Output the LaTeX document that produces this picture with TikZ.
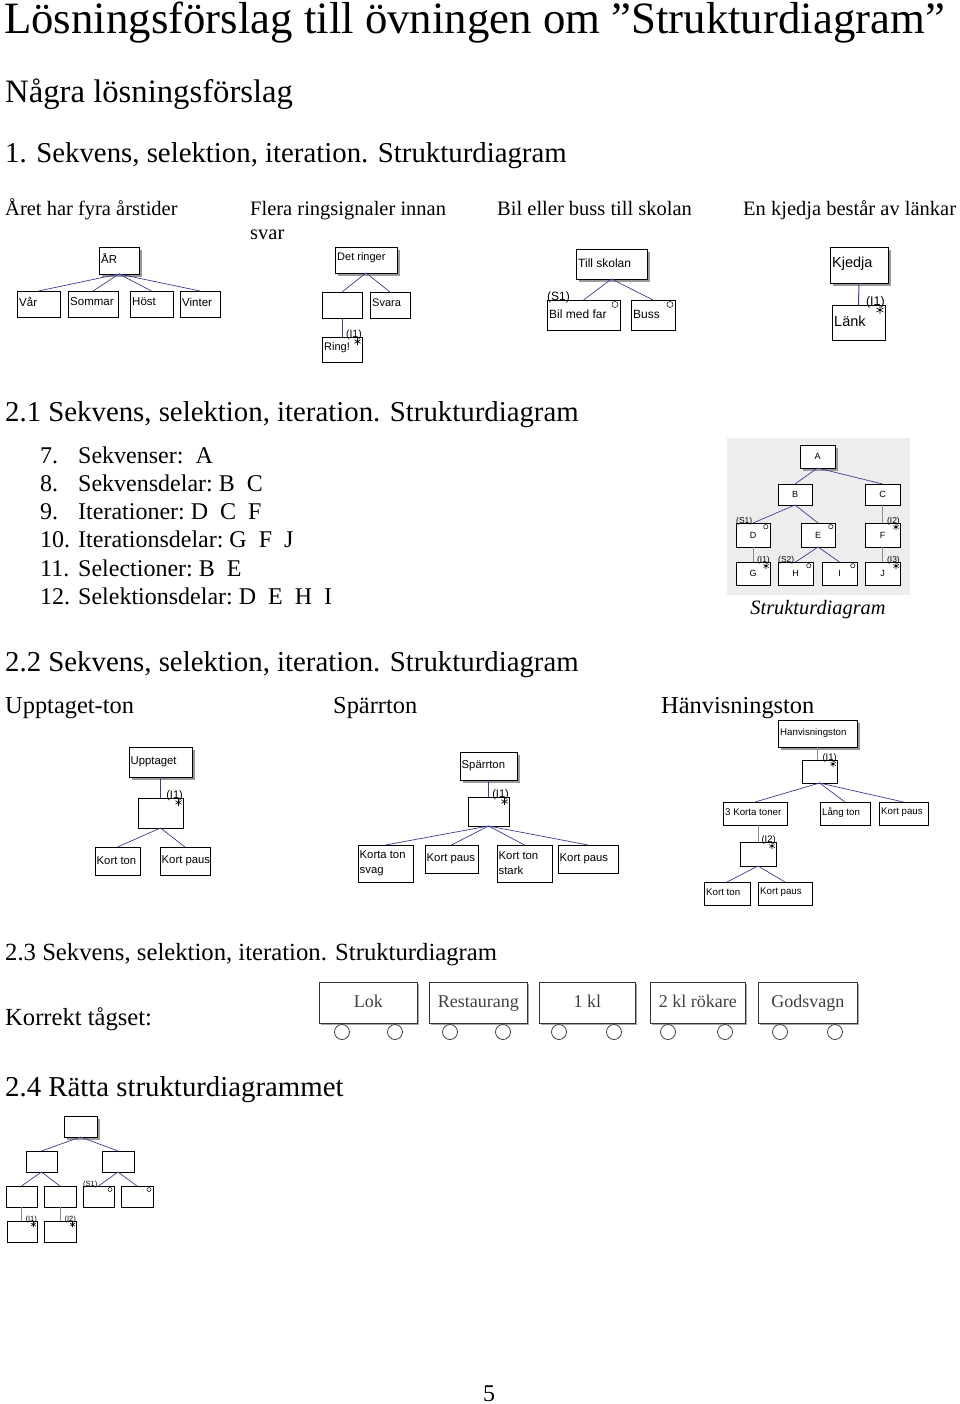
\documentclass[tikz,border=0pt]{standalone}
\usepackage{fontspec}
\setmainfont{Liberation Serif}
\newfontfamily\sansf{Liberation Sans}
\usetikzlibrary{shadows}
\newcommand\myfs[2]{\fontsize{#1}{#2}\selectfont}
\definecolor{ln}{RGB}{60,60,150}
\tikzset{
 bx/.style={draw=black, line width=0.75pt, fill=white, inner sep=0pt, outer sep=0pt, anchor=north west},
 shd/.style={drop shadow={shadow xshift=3pt, shadow yshift=-3pt, fill=black!40, opacity=1}},
 bt/.style={anchor=west, inner xsep=2pt, inner ysep=0pt, align=left},
 conn/.style={draw=ln, line width=0.7pt},
 lab/.style={inner sep=0pt},
 hd/.style={anchor=base west, inner sep=0pt},
 mk/.style={line width=0.6pt},
 tb/.style={draw=black!80, line width=0.9pt, fill=white, inner sep=0pt, anchor=north west, font=\myfs{18}{20}, text=black!75, text height=12.5pt, text depth=3.5pt, drop shadow={shadow xshift=1.5pt, shadow yshift=-1.5pt, fill=black!35, opacity=1}},
 wh/.style={draw=black!75, line width=0.8pt, fill=white},
}
% box with left text
\newcommand\mybx[7]{\node[bx,#6,minimum width={#4-#2},minimum height={#5-#3}] (#1) at (#2,#3) {};\node[bt] (#1-t) at (#1.west) {#7};}
% box with centred text
\newcommand\mycb[7]{\node[bx,#6,minimum width={#4-#2},minimum height={#5-#3}] (#1) at (#2,#3) {#7};}
% iteration marker: node, label, radius
\newcommand\myit[3]{\node[lab, anchor=base east] (#1-i) at ([yshift=-0.5pt]#1.north east) {#2};
 \draw[mk] ([shift={(-#3-1,#3+1)}]#1.north east) +(90:#3pt) -- +(270:#3pt) +(30:#3pt) -- +(210:#3pt) +(150:#3pt) -- +(330:#3pt);}
% selection circle: node, radius
\newcommand\mysel[2]{\draw[mk, line width=0.5pt, fill=white] ([shift={(-#2-2,#2+1.5)}]#1.north east) circle[radius=#2pt];}
% selection label: node, label
\newcommand\mysl[2]{\node[lab, anchor=base west] (#1-s) at ([yshift=-0.5pt]#1.north west) {#2};}
% train car
\newcommand\mytr[6]{\node[tb,minimum width={#4-#2},minimum height={#5-#3}] (#1) at (#2,#3) {#6};}
\begin{document}
\begin{tikzpicture}[x=1pt,y=-1pt]
\useasboundingbox (0,0) rectangle (960,1404);
\fill[white] (0,0) rectangle (960,1404);

% ---------- headings ----------
\node[hd,font=\myfs{44.8}{50}] (title) at (4,34) {Lösningsförslag till övningen om ”Strukturdiagram”};
\node[hd,font=\myfs{32.7}{38}] (h0) at (5,103) {Några lösningsförslag};
\node[hd,font=\myfs{28.8}{34}] (h1) at (5,163) {1. Sekvens, selektion, iteration. Strukturdiagram};
\node[hd,font=\myfs{20.5}{24}] (c1) at (5,216) {Året har fyra årstider};
\node[hd,font=\myfs{20.5}{24}] (c2) at (250,216) {Flera ringsignaler innan};
\node[hd,font=\myfs{20.5}{24}] (c2b) at (250,240) {svar};
\node[hd,font=\myfs{20.5}{24}] (c3) at (497,216) {Bil eller buss till skolan};
\node[hd,font=\myfs{20.5}{24}] (c4) at (743,216) {En kjedja består av länkar};

% ---------- top row ----------
\begin{scope}[bt/.append style={font=\sansf\myfs{11.5}{13}, yshift=2pt}]
\mybx{ar}{99}{247}{139}{274}{shd}{ÅR}
\mybx{var}{17}{291}{60}{317}{}{Vår}
\mybx{som}{68}{291}{118}{317}{}{Sommar}
\mybx{host}{130}{291}{173}{317}{}{Höst}
\mybx{vin}{180}{291}{220}{317}{}{Vinter}
\end{scope}
\draw[conn] (ar.south) -- (var.north);
\draw[conn] (ar.south) -- (som.north);
\draw[conn] (ar.south) -- (host.north);
\draw[conn] (ar.south) -- (vin.north);

\begin{scope}[bt/.append style={font=\sansf\myfs{11}{13}, yshift=2pt}, lab/.append style={font=\sansf\myfs{10.5}{12}}]
\mybx{dr}{335}{247}{397}{273}{shd}{Det ringer}
\mybx{ea}{322}{292}{362}{318}{}{}
\mybx{sv}{370}{292}{410}{318}{}{Svara}
\mybx{ring}{322}{337}{362}{362}{}{Ring!}
\myit{ring}{(I1)}{3.5}
\end{scope}
\draw[conn] (dr.south) -- (ea.north);
\draw[conn] (dr.south) -- (sv.north);
\draw[conn] (ea.south) -- (ring.north);

\begin{scope}[bt/.append style={font=\sansf\myfs{12}{14}, yshift=1pt}, lab/.append style={font=\sansf\myfs{12}{14}}]
\mybx{ts}{576}{249}{647}{279}{shd}{Till skolan}
\mybx{bmf}{547}{300}{620}{330}{}{Bil med far}
\mybx{buss}{631}{300}{675}{330}{}{Buss}
\mysl{bmf}{(S1)}
\mysel{bmf}{3}
\mysel{buss}{3}
\end{scope}
\draw[conn] (ts.south) -- (bmf.north);
\draw[conn] (ts.south) -- (buss.north);

\begin{scope}[bt/.append style={font=\sansf\myfs{14.5}{16}, yshift=1pt}, lab/.append style={font=\sansf\myfs{12.5}{14}}]
\mybx{kj}{830}{247}{888}{283}{shd}{Kjedja}
\mybx{lank}{832}{305}{885}{340}{}{Länk}
\myit{lank}{(I1)}{4}
\end{scope}
\draw[conn, line width=1pt] (kj.south) -- (lank.north);

% ---------- 2.1 ----------
\node[hd,font=\myfs{28.8}{34}] (h21) at (5,421) {2.1 Sekvens, selektion, iteration. Strukturdiagram};
\begin{scope}[every node/.append style={hd,font=\myfs{24}{28}}]
\node (n7) at (40,463) {7.};   \node (t7) at (78,463) {Sekvenser:~~A};
\node (n8) at (40,491) {8.};   \node (t8) at (78,491) {Sekvensdelar:~B~~C};
\node (n9) at (40,519) {9.};   \node (t9) at (78,519) {Iterationer:~D~~C~~F};
\node (n10) at (40,547) {10.}; \node (t10) at (78,547) {Iterationsdelar:~G~~F~~J};
\node (n11) at (40,576) {11.}; \node (t11) at (78,576) {Selectioner:~B~~E};
\node (n12) at (40,604) {12.}; \node (t12) at (78,604) {Selektionsdelar:~D~~E~~H~~I};
\end{scope}

\fill[black!7] (727,438) rectangle (910,595);
\begin{scope}[bx/.append style={font=\sansf\myfs{9}{10}, line width=0.6pt}, lab/.append style={font=\sansf\myfs{8.5}{9}}]
\mycb{A}{800}{445}{835}{468}{shd}{A}
\mycb{B}{778}{484}{812}{505}{}{B}
\mycb{C}{865}{484}{900}{505}{}{C}
\mycb{D}{736}{523}{770}{547}{}{D}
\mycb{E}{801}{523}{835}{547}{}{E}
\mycb{F}{865}{523}{900}{547}{}{F}
\mycb{G}{736}{562}{770}{585}{}{G}
\mycb{H}{778}{562}{813}{585}{}{H}
\mycb{I}{822}{562}{857}{585}{}{I}
\mycb{J}{865}{562}{900}{585}{}{J}
\mysl{D}{(S1)}
\mysl{H}{(S2)}
\mysel{D}{2.2}
\mysel{E}{2.2}
\mysel{H}{2.2}
\mysel{I}{2.2}
\myit{F}{(I2)}{3}
\myit{G}{(I1)}{3}
\myit{J}{(I3)}{3}
\end{scope}
\draw[conn] (A.south) -- (B.north);
\draw[conn] (A.south) -- (C.north);
\draw[conn] (B.south) -- (D.north);
\draw[conn] (B.south) -- (E.north);
\draw[conn, draw=black!45] (C.south) -- (F.north);
\draw[conn, draw=black!45] (D.south) -- (G.north);
\draw[conn] (E.south) -- (H.north);
\draw[conn] (E.south) -- (I.north);
\draw[conn, draw=black!45] (F.south) -- (J.north);
\node[font=\itshape\myfs{20.4}{24}, inner sep=0pt, anchor=base] (scap) at (818,614) {Strukturdiagram};

% ---------- 2.2 ----------
\node[hd,font=\myfs{28.8}{34}] (h22) at (5,671) {2.2 Sekvens, selektion, iteration. Strukturdiagram};
\node[hd,font=\myfs{24.4}{28}] (u1) at (5,713) {Upptaget-ton};
\node[hd,font=\myfs{24.4}{28}] (u2) at (333,713) {Spärrton};
\node[hd,font=\myfs{24.4}{28}] (u3) at (661,713) {Hänvisningston};

\begin{scope}[bt/.append style={font=\sansf\myfs{11.3}{15}, inner xsep=1.5pt}, lab/.append style={font=\sansf\myfs{11}{12}}]
\mybx{upp}{129}{747}{192}{777}{shd}{Upptaget}
\mybx{ue}{138}{798}{183}{828}{}{}
\mybx{uka}{95}{847}{140}{875}{}{Kort ton}
\mybx{ukb}{160}{847}{210}{875}{}{Kort paus}
\myit{ue}{(I1)}{3.5}
\mybx{sp}{460}{752}{517}{780}{shd}{Spärrton}
\mybx{se}{468}{797}{509}{826}{}{}
\mybx{sa}{358}{845}{413}{882}{}{Korta ton\\svag}
\mybx{sb}{425}{845}{478}{873}{}{Kort paus}
\mybx{sc}{497}{845}{552}{882}{}{Kort ton\\stark}
\mybx{sd}{558}{845}{618}{873}{}{Kort paus}
\myit{se}{(I1)}{3.5}
\end{scope}
\draw[conn] (upp.south) -- (ue.north);
\draw[conn] (ue.south) -- (uka.north);
\draw[conn] (ue.south) -- (ukb.north);
\draw[conn] (sp.south) -- (se.north);
\draw[conn] (se.south) -- (sa.north);
\draw[conn] (se.south) -- (sb.north);
\draw[conn] (se.south) -- (sc.north);
\draw[conn] (se.south) -- (sd.north);

\begin{scope}[bt/.append style={font=\sansf\myfs{9.7}{11}, yshift=1pt}, lab/.append style={font=\sansf\myfs{9.5}{10}}, bx/.append style={line width=0.6pt}]
\mybx{hv}{778}{720}{857}{747}{shd}{Hanvisningston}
\mybx{he}{802}{760}{837}{783}{}{}
\mybx{hk}{723}{802}{787}{825}{}{3 Korta toner}
\mybx{hl}{820}{802}{870}{825}{}{Lång ton}
\mybx{hp}{879}{802}{928}{825}{}{Kort paus}
\mybx{hf}{740}{842}{776}{866}{}{}
\mybx{hka}{704}{882}{750}{905}{}{Kort ton}
\mybx{hkb}{758}{882}{812}{905}{}{Kort paus}
\myit{he}{(I1)}{3}
\myit{hf}{(I2)}{3}
\end{scope}
\draw[conn, draw=black!45] (hv.south) -- (hv.south|-he.north);
\draw[conn] (he.south) -- (hk.north);
\draw[conn] (he.south) -- (hl.north);
\draw[conn] (he.south) -- (hp.north);
\draw[conn, draw=black!45] (hf.north|-hk.south) -- (hf.north);
\draw[conn] (hf.south) -- (hka.north);
\draw[conn] (hf.south) -- (hkb.north);

% ---------- 2.3 ----------
\node[hd,font=\myfs{24.7}{28}] (h23) at (5,960) {2.3 Sekvens, selektion, iteration. Strukturdiagram};
\node[hd,font=\myfs{24.6}{28}] (kt) at (5,1025) {Korrekt tågset:};
\mytr{lok}{319}{982}{417}{1023}{Lok}
\mytr{rest}{429}{982}{527}{1023}{Restaurang}
\mytr{kl1}{539}{982}{635}{1023}{1 kl}
\mytr{kl2}{650}{982}{745}{1023}{2 kl rökare}
\mytr{gods}{758}{982}{857}{1023}{Godsvagn}
\foreach \wx in {342,395,450,503,559,614,668,725,780,835}
 \draw[wh] (\wx,1032) circle[radius=7.5pt];

% ---------- 2.4 ----------
\node[hd,font=\myfs{28.8}{34}] (h24) at (5,1096) {2.4 Rätta strukturdiagrammet};
\begin{scope}[lab/.append style={font=\sansf\myfs{7.5}{8}}, bx/.append style={line width=0.6pt}]
\mycb{rt}{64}{1116}{97}{1137}{shd}{}
\mycb{rl}{26}{1151}{57}{1172}{}{}
\mycb{rr}{102}{1151}{134}{1172}{}{}
\mycb{rla}{6}{1186}{37}{1207}{}{}
\mycb{rlb}{44}{1186}{76}{1207}{}{}
\mycb{rra}{83}{1186}{114}{1207}{}{}
\mycb{rrb}{121}{1186}{153}{1207}{}{}
\mycb{rlaa}{7}{1221}{37}{1242}{}{}
\mycb{rlbb}{44}{1221}{76}{1242}{}{}
\mysl{rra}{(S1)}
\mysel{rra}{2}
\mysel{rrb}{2}
\myit{rlaa}{(I1)}{2.5}
\myit{rlbb}{(I2)}{2.5}
\end{scope}
\draw[conn] (rt.south) -- (rl.north);
\draw[conn] (rt.south) -- (rr.north);
\draw[conn] (rl.south) -- (rla.north);
\draw[conn] (rl.south) -- (rlb.north);
\draw[conn] (rr.south) -- (rra.north);
\draw[conn] (rr.south) -- (rrb.north);
\draw[conn, draw=black!45] (rla.south) -- (rla.south|-rlaa.north);
\draw[conn, draw=black!45] (rlb.south) -- (rlb.south|-rlbb.north);

\node[hd,font=\myfs{24}{28}] (pg) at (483,1401) {5};
\end{tikzpicture}
\end{document}
